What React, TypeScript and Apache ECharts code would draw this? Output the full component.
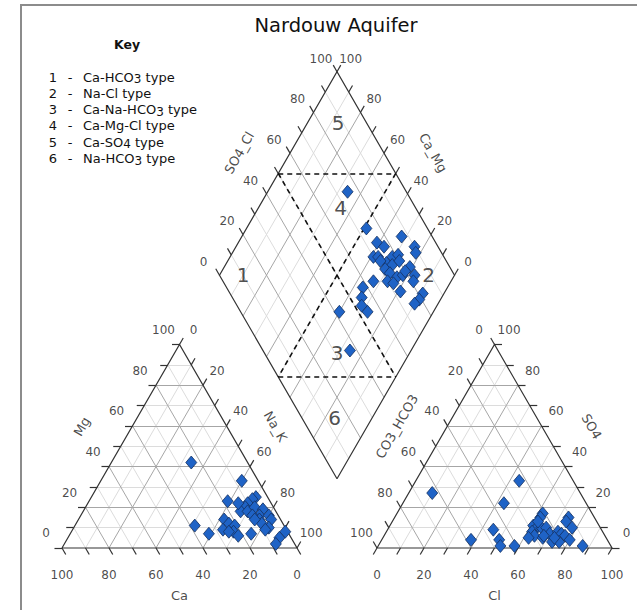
import React, { useEffect, useRef } from 'react';
import * as echarts from 'echarts';

// ---------------- data ----------------
const TITLE = 'Nardouw Aquifer';
const KEY_HEADING = 'Key';
const keyTypes = [
  'Ca-HCO3 type',
  'Na-Cl type',
  'Ca-Na-HCO3 type',
  'Ca-Mg-Cl type',
  'Ca-SO4 type',
  'Na-HCO3 type',
];
const tickValues = [0, 20, 40, 60, 80, 100];
const cationAxisNames = ['Ca', 'Mg', 'Na_K'];
const anionAxisNames = ['CO3_HCO3', 'SO4', 'Cl'];
const diamondAxisNames = ['SO4_Cl', 'Ca_Mg'];
const regionNames = ['1', '2', '3', '4', '5', '6'];

// cation triangle samples: [Ca, Mg, Na_K] (%)
const cationSamples: number[][] = [
  [24, 42, 34], [7, 33, 60], [18, 23, 59], [38, 11, 51], [34, 7, 59], [16, 7, 77],
  [5, 25, 70], [7, 24, 69], [10, 22, 68], [12, 20, 68], [15, 18, 67], [12, 18, 70],
  [8, 20, 72], [5, 19, 76], [8, 16, 76], [11, 16, 73], [4, 16, 80], [9, 14, 77],
  [4, 14, 82], [24, 14, 62], [23, 12, 65], [21, 11, 68], [27, 9, 64], [23, 8, 69],
  [22, 6, 72], [7, 10, 83], [9, 12, 79], [1, 8, 91], [5, 5, 90], [8, 2, 90],
  [14, 22, 64], [25, 8, 67], [11, 14, 75], [9, 9, 82],
];

// anion triangle samples: [CO3_HCO3, SO4, Cl] (%)
const anionSamples: number[][] = [
  [63, 27, 10], [23, 33, 44], [35, 22, 43], [46, 9, 45], [58, 4, 38], [46, 4, 50],
  [47, 1, 52], [41, 1, 58], [21, 17, 62], [23, 15, 62], [11, 15, 74], [13, 13, 74],
  [28, 11, 61], [27, 10, 63], [25, 10, 65], [23, 10, 67], [30, 8, 62], [30, 6, 64],
  [27, 5, 68], [23, 7, 70], [24, 3, 73], [19, 8, 73], [18, 7, 75], [17, 6, 77],
  [16, 4, 80], [21, 3, 76], [12, 1, 87], [25, 13, 62], [26, 6, 68], [33, 5, 62],
  [22, 5, 73], [12, 10, 78],
];

// diamond samples: [SO4_Cl, Ca_Mg] (%)
const diamondSamples: number[][] = [
  [75, 66], [74, 49], [87, 32], [75, 41], [77, 37], [90, 24], [89, 22], [70, 39],
  [72, 37], [78, 31], [81, 29], [74, 32], [76, 29], [80, 27], [83, 21], [83, 17],
  [72, 31], [73, 28], [75, 24], [78, 22], [70, 27], [72, 24], [81, 16], [73, 19],
  [82, 9], [79, 9], [76, 10], [64, 33], [58, 36], [55, 34], [53, 32], [54, 28],
  [42, 40], [37, 26], [80, 22], [72, 35],
];

// ---------------- layout ----------------
const W = 637;
const H = 610;
const PX = 2.35; // px per ternary unit (side = 100 units)
const ORIGIN_X = 62;
const ORIGIN_Y = 548;
const S3 = Math.sqrt(3) / 2;
const GAP = 80 / PX;
const X0 = 100 + GAP;
const BX = (100 + X0) / 2;
const BY = (GAP / 2) * Math.sqrt(3);
const TICK = 3.2;
const FONT = 'DejaVu Sans';

type P = [number, number];
const cat = (ca: number, mg: number, na: number): P => [na + mg / 2, mg * S3];
const an = (hco3: number, so4: number, cl: number): P => [X0 + cl + so4 / 2, so4 * S3];
const dia = (s: number, c: number): P => [BX + 0.5 * s - 0.5 * c, BY + S3 * (s + c)];
const add = (p: P, dx: number, dy: number): P => [p[0] + dx, p[1] + dy];

const regionPos: P[] = [dia(10, 90), dia(89, 11), dia(31, 31), dia(68, 65), dia(88, 87), dia(14, 16)];

function buildOption() {
  const minor: any[] = [];
  const major: any[] = [];
  const ticks: any[] = [];
  const seg = (a: P, b: P) => ({ coords: [a, b] });

  for (let k = 10; k <= 90; k += 10) {
    const arr = k % 20 === 0 ? major : minor;
    // cation
    arr.push(seg(cat(100 - k, k, 0), cat(0, k, 100 - k)));
    arr.push(seg(cat(k, 0, 100 - k), cat(k, 100 - k, 0)));
    arr.push(seg(cat(100 - k, 0, k), cat(0, 100 - k, k)));
    // anion
    arr.push(seg(an(100 - k, k, 0), an(0, k, 100 - k)));
    arr.push(seg(an(k, 0, 100 - k), an(k, 100 - k, 0)));
    arr.push(seg(an(100 - k, 0, k), an(0, 100 - k, k)));
    // diamond
    arr.push(seg(dia(k, 0), dia(k, 100)));
    arr.push(seg(dia(0, k), dia(100, k)));
  }
  for (let k = 0; k <= 100; k += 10) {
    let p = cat(100 - k, k, 0); ticks.push(seg(p, add(p, -TICK, 0)));
    p = cat(0, 100 - k, k); ticks.push(seg(p, add(p, TICK * 0.5, TICK * S3)));
    p = cat(k, 0, 100 - k); ticks.push(seg(p, add(p, TICK * 0.5, -TICK * S3)));
    p = an(0, k, 100 - k); ticks.push(seg(p, add(p, TICK, 0)));
    p = an(k, 100 - k, 0); ticks.push(seg(p, add(p, -TICK * 0.5, TICK * S3)));
    p = an(100 - k, 0, k); ticks.push(seg(p, add(p, -TICK * 0.5, -TICK * S3)));
    p = dia(k, 100); ticks.push(seg(p, add(p, -TICK * 0.5, TICK * S3)));
    p = dia(100, k); ticks.push(seg(p, add(p, TICK * 0.5, TICK * S3)));
  }
  const edges = [
    { coords: [cat(100, 0, 0), cat(0, 0, 100), cat(0, 100, 0), cat(100, 0, 0)] },
    { coords: [an(100, 0, 0), an(0, 0, 100), an(0, 100, 0), an(100, 0, 0)] },
    { coords: [dia(0, 0), dia(100, 0), dia(100, 100), dia(0, 100), dia(0, 0)] },
  ];
  const dashed = [
    seg(dia(50, 100), dia(50, 0)),
    seg(dia(100, 50), dia(0, 50)),
    seg(dia(50, 100), dia(100, 50)),
    seg(dia(0, 50), dia(50, 0)),
  ];

  const tickLabels: any[] = [];
  const lab = (p: P, text: string) => ({ value: p, name: text, label: { formatter: text } });
  tickValues.forEach((k) => {
    const t = String(k);
    tickLabels.push(lab(add(cat(100 - k, k, 0), -6.8, 6.2), t));
    tickLabels.push(lab(add(cat(0, 100 - k, k), 6.0, 6.2), t));
    tickLabels.push(lab(add(cat(k, 0, 100 - k), 0, -11.5), t));
    tickLabels.push(lab(add(an(k, 100 - k, 0), -6.6, 6.2), t));
    tickLabels.push(lab(add(an(0, k, 100 - k), 6.2, 6.2), t));
    tickLabels.push(lab(add(an(100 - k, 0, k), 0, -11.5), t));
    tickLabels.push(lab(add(dia(k, 100), -6.8, 5.6), t));
    tickLabels.push(lab(add(dia(100, k), 5.8, 5.6), t));
  });

  const titleItem = (p: P, text: string, rotate: number) => ({
    value: p, name: text, label: { formatter: text, rotate },
  });
  const axisTitles = [
    titleItem(add(cat(50, 0, 50), 0, -20), cationAxisNames[0], 0),
    titleItem(add(cat(50, 50, 0), -16.5, 8.4), cationAxisNames[1], 60),
    titleItem(add(cat(0, 50, 50), 15.8, 8.4), cationAxisNames[2], -60),
    titleItem(add(an(50, 50, 0), -16.5, 8.4), anionAxisNames[0], 60),
    titleItem(add(an(0, 50, 50), 16.3, 8.4), anionAxisNames[1], -60),
    titleItem(add(an(50, 0, 50), 0, -20), anionAxisNames[2], 0),
    titleItem(add(dia(50, 100), -16.6, 8.8), diamondAxisNames[0], 60),
    titleItem(add(dia(100, 50), 15.9, 8.8), diamondAxisNames[1], -60),
  ];

  const regionItems = regionNames.map((n, i) => ({ value: regionPos[i], name: n, label: { formatter: n } }));

  const textSeries = (data: any[], fontSize: number, z: number, extra: any = {}) => ({
    type: 'scatter',
    symbol: 'circle',
    symbolSize: 1,
    itemStyle: { color: 'rgba(0,0,0,0)' },
    silent: true,
    z,
    emphasis: { disabled: true },
    label: { show: true, position: 'inside', color: '#1a1a1a', fontFamily: FONT, fontSize, ...extra },
    data,
  });

  const linesSeries = (data: any[], style: any, z: number, polyline = false) => ({
    type: 'lines',
    coordinateSystem: 'cartesian2d',
    polyline,
    silent: true,
    z,
    lineStyle: { opacity: 1, ...style },
    data,
  });

  const marker = {
    type: 'scatter',
    symbol: 'diamond',
    symbolSize: [11, 13],
    z: 20,
    silent: true,
    itemStyle: { color: '#1f63c6', borderColor: '#142f5f', borderWidth: 0.8, opacity: 1 },
  };

  const sub = (t: string) => '{n|' + t.replace(/([A-Z])(\d)/g, '$1}{s|$2}{n|') + '}';

  const keyGraphics: any[] = [];
  keyTypes.forEach((t, i) => {
    const y = 77 + i * 16.3;
    keyGraphics.push({ type: 'text', x: 53, y, silent: true, style: { text: String(i + 1), fontFamily: FONT, fontSize: 13, fill: '#111', align: 'center', verticalAlign: 'middle' } });
    keyGraphics.push({ type: 'text', x: 70, y, silent: true, style: { text: '-', fontFamily: FONT, fontSize: 13, fill: '#111', align: 'center', verticalAlign: 'middle' } });
    keyGraphics.push({
      type: 'text', x: 83, y, silent: true,
      style: {
        text: sub(t), fill: '#111', align: 'left', verticalAlign: 'middle',
        rich: {
          n: { fontFamily: FONT, fontSize: 13, lineHeight: 16, fill: '#111' },
          s: { fontFamily: FONT, fontSize: 12, lineHeight: 12, fill: '#111', verticalAlign: 'bottom' },
        },
      },
    });
  });

  return {
    animation: false,
    backgroundColor: '#ffffff',
    grid: { left: 0, right: 0, top: 0, bottom: 0, containLabel: false },
    xAxis: { type: 'value', min: -ORIGIN_X / PX, max: (W - ORIGIN_X) / PX, show: false },
    yAxis: { type: 'value', min: -(H - ORIGIN_Y) / PX, max: ORIGIN_Y / PX, show: false },
    series: [
      linesSeries(minor, { color: '#dcdcdc', width: 1 }, 1),
      linesSeries(major, { color: '#a6a6a6', width: 1 }, 2),
      linesSeries(ticks, { color: '#333333', width: 1.2 }, 3),
      linesSeries(edges, { color: '#333333', width: 1.2 }, 4, true),
      linesSeries(dashed, { color: '#111111', width: 1.6, type: [5, 4] }, 5),
      textSeries(tickLabels, 12, 6),
      textSeries(axisTitles, 13, 6),
      textSeries(regionItems, 20, 6, { color: '#222' }),
      { ...marker, data: cationSamples.map((d) => cat(d[0], d[1], d[2])) },
      { ...marker, data: anionSamples.map((d) => an(d[0], d[1], d[2])) },
      { ...marker, data: diamondSamples.map((d) => dia(d[0], d[1])) },
    ],
    graphic: [
      { type: 'rect', silent: true, shape: { x: 21, y: 5, width: 700, height: 700 }, style: { fill: 'none', stroke: '#8c8c8c', lineWidth: 2 } },
      { type: 'text', x: 336, y: 25, silent: true, style: { text: TITLE, fontFamily: FONT, fontSize: 19.5, fill: '#111', align: 'center', verticalAlign: 'middle' } },
      { type: 'text', x: 127, y: 44, silent: true, style: { text: KEY_HEADING, fontFamily: FONT, fontWeight: 'bold', fontSize: 12.5, fill: '#111', align: 'center', verticalAlign: 'middle' } },
      ...keyGraphics,
    ],
  };
}

export default function App() {
  const ref = useRef<HTMLDivElement>(null);
  useEffect(() => {
    if (!ref.current) return;
    const chart = echarts.init(ref.current, undefined, { renderer: 'svg' });
    chart.setOption(buildOption() as any);
    return () => chart.dispose();
  }, []);
  return (
    <div
      ref={ref}
      style={{ position: 'absolute', left: 0, top: 0, width: W, height: H, background: '#fff' }}
    />
  );
}
